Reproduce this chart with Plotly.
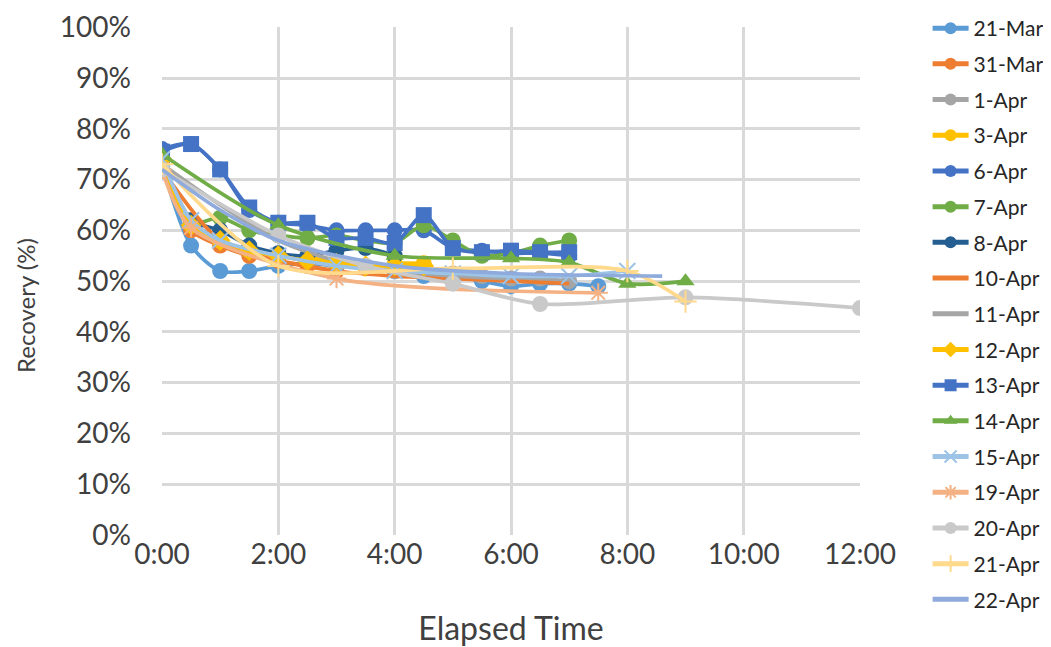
import plotly.graph_objects as go

# Elapsed time in hours, recovery in %
t_21mar = [0, 0.5, 1, 1.5, 2, 2.5, 3, 3.5, 4, 4.5, 5, 5.5, 6, 6.5, 7, 7.5]
v_21mar = [73, 57, 52, 52, 53, 53.5, 53, 53, 52, 51, 51, 50, 49, 49.5, 49.5, 49]

t_31mar = [0, 0.5, 1, 1.5, 2, 2.5, 3]
v_31mar = [72, 60, 57, 55, 54, 53, 52]

t_1apr = [0, 0.5, 1, 1.5, 2, 2.5, 3, 3.5, 4, 4.5, 5, 5.5, 6, 6.5, 7]
v_1apr = [73, 62, 58, 56, 55, 54, 53, 53, 52, 52, 51.5, 51, 50.5, 50.5, 50]

t_3apr = [0, 0.5, 1, 1.5, 2, 2.5, 3, 3.5, 4, 4.5]
v_3apr = [74, 61, 58, 56, 55, 54.5, 54, 52.5, 53.5, 53.5]

t_6apr = [0, 0.5, 1, 1.5, 2, 2.5, 3, 3.5, 4, 4.5, 5, 5.5, 6, 6.5, 7]
v_6apr = [76, 77, 72, 64, 61.5, 61, 60, 60, 60, 60, 56.5, 56, 55.5, 55.5, 55]

t_7apr = [0, 0.5, 1, 1.5, 2, 2.5, 3, 3.5, 4, 4.5, 5, 5.5, 6, 6.5, 7]
v_7apr = [75, 61.5, 62.5, 60, 59, 58.5, 59, 58, 57.5, 61, 58, 55, 55.5, 57, 58]

t_8apr = [0, 0.5, 1, 1.5, 2, 2.5, 3, 3.5, 4]
v_8apr = [74, 62, 60, 57, 55.5, 55, 56, 56.5, 55]

t_10apr = [0, 1, 2, 3, 4, 5, 6, 7]
v_10apr = [72, 58, 54, 52, 51, 50.5, 50, 49.5]

t_11apr = [0, 1, 2, 3, 4, 5, 6]
v_11apr = [73, 65, 58, 54, 52, 51, 50.5]

t_12apr = [0, 0.5, 1, 1.5, 2, 2.5, 3, 3.5, 4, 4.5]
v_12apr = [74, 61, 58, 56, 55, 54, 53.5, 53, 53, 53]

t_13apr = [0, 0.5, 1, 1.5, 2, 2.5, 3, 3.5, 4, 4.5, 5, 5.5, 6, 6.5, 7]
v_13apr = [75.5, 77, 72, 64.5, 61.5, 61.5, 58.5, 58.5, 57.5, 63, 56.5, 55.7, 56, 55.7, 55.7]

t_14apr = [0, 2, 4, 6, 7, 8, 9]
v_14apr = [75, 61, 55, 54.5, 53.7, 49.5, 50]

t_15apr = [0, 0.5, 1, 2, 3, 4, 5, 6, 7, 8]
v_15apr = [74, 62, 58, 55, 53, 52, 51.5, 51, 51, 52]

t_19apr = [0, 0.5, 3, 7.5]
v_19apr = [72, 60.5, 50.5, 47.7]

t_20apr = [0, 2, 3.5, 5, 6.5, 9, 12]
v_20apr = [72, 59, 53, 49.5, 45.5, 46.8, 44.7]

t_21apr = [0, 2, 5, 8, 9]
v_21apr = [73, 53, 52.5, 52, 46]

t_22apr = [0, 1, 2, 4, 6, 8.6]
v_22apr = [72, 64, 58, 53, 51.5, 51]

x_ticks = [0, 2, 4, 6, 8, 10, 12]
x_tick_labels = ["0:00", "2:00", "4:00", "6:00", "8:00", "10:00", "12:00"]
y_ticks = [0, 10, 20, 30, 40, 50, 60, 70, 80, 90, 100]
y_tick_labels = [f"{v}%" for v in y_ticks]

series = [
    ("21-Mar", t_21mar, v_21mar, "#5B9BD5", "circle"),
    ("31-Mar", t_31mar, v_31mar, "#ED7D31", "circle"),
    ("1-Apr", t_1apr, v_1apr, "#A5A5A5", "circle"),
    ("3-Apr", t_3apr, v_3apr, "#FFC000", "circle"),
    ("6-Apr", t_6apr, v_6apr, "#4472C4", "circle"),
    ("7-Apr", t_7apr, v_7apr, "#70AD47", "circle"),
    ("8-Apr", t_8apr, v_8apr, "#255E91", "circle"),
    ("10-Apr", t_10apr, v_10apr, "#ED7D31", None),
    ("11-Apr", t_11apr, v_11apr, "#A5A5A5", None),
    ("12-Apr", t_12apr, v_12apr, "#FFC000", "diamond"),
    ("13-Apr", t_13apr, v_13apr, "#4472C4", "square"),
    ("14-Apr", t_14apr, v_14apr, "#70AD47", "triangle-up"),
    ("15-Apr", t_15apr, v_15apr, "#9DC3E6", "x-thin"),
    ("19-Apr", t_19apr, v_19apr, "#F4B183", "asterisk"),
    ("20-Apr", t_20apr, v_20apr, "#C9C9C9", "circle"),
    ("21-Apr", t_21apr, v_21apr, "#FFD98C", "cross-thin"),
    ("22-Apr", t_22apr, v_22apr, "#8FAADC", None),
]

fig = go.Figure()
for name, t, v, color, sym in series:
    if sym is None:
        mode = "lines"
        marker = dict()
    else:
        mode = "lines+markers"
        thin = sym.endswith("thin") or sym == "asterisk"
        marker = dict(symbol=sym, size=16, color=color,
                      line=dict(color=color, width=2 if thin else 0))
    fig.add_trace(go.Scatter(
        x=t, y=v, name=name, mode=mode, legendgroup=name,
        line=dict(color=color, width=3.7, shape="spline", smoothing=0.8),
        marker=marker,
    ))

W, H = 1043, 639
ML, MR, MT, MB = 154, 191, 19, 112
plot_w, plot_h = W - ML - MR, H - MT - MB
fig.update_layout(
    width=W, height=H,
    paper_bgcolor="white", plot_bgcolor="white",
    margin=dict(l=ML, r=MR, t=MT, b=MB, autoexpand=False),
    font=dict(family="Lato, 'Open Sans', sans-serif", color="#262626"),
    legend=dict(
        xref="container", x=919.6 / W, xanchor="left",
        yref="container", y=1.0, yanchor="top",
        font=dict(size=21, color="#262626"),
        tracegroupgap=5.4, itemwidth=36, itemsizing="constant",
        bgcolor="rgba(0,0,0,0)", maxheight=H,
    ),
    showlegend=True,
    annotations=[dict(
        text="Recovery (%)", textangle=-90, showarrow=False,
        xref="paper", yref="paper",
        x=(17 - ML) / plot_w, y=(MT + plot_h - 298) / plot_h,
        xanchor="center", yanchor="middle",
        font=dict(size=24, color="#404040"),
    )],
)
fig.update_xaxes(
    range=[0, 12], tickvals=x_ticks, ticktext=x_tick_labels,
    showgrid=True, gridcolor="#D9D9D9", gridwidth=2.5,
    zeroline=False, showline=False, ticks="", ticklen=0, automargin=False,
    ticklabelstandoff=0, ticklabeloverflow="allow",
    tickfont=dict(size=28, color="#404040"),
    title=dict(text="Elapsed Time", font=dict(size=32, color="#404040"), standoff=50),
)
fig.update_yaxes(
    range=[0, 100.05], tickvals=y_ticks, ticktext=y_tick_labels,
    showgrid=True, gridcolor="#D9D9D9", gridwidth=2.5,
    zeroline=False, showline=False, ticks="", ticklen=0, automargin=False,
    ticklabelstandoff=30, ticklabeloverflow="allow",
    tickfont=dict(size=28, color="#404040"),
)

fig.write_html("out.html")
